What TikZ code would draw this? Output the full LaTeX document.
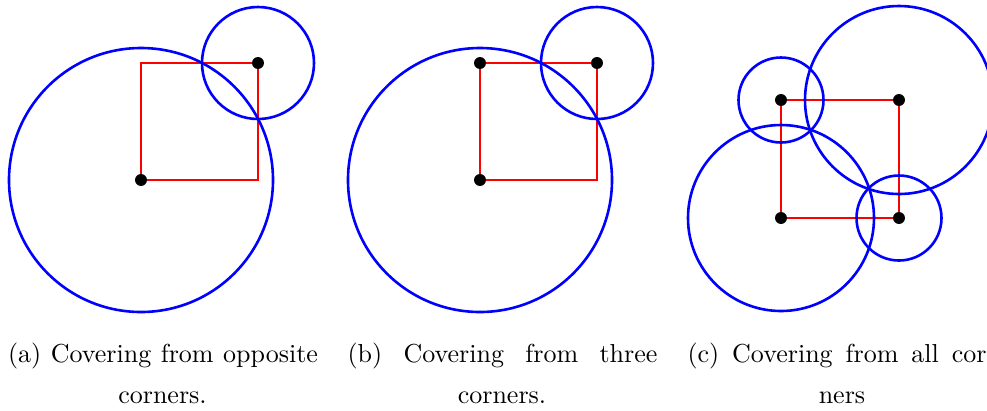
\documentclass[tikz,border=0pt]{standalone}
\usepackage{xcolor}
\usepackage{tikz}
\usetikzlibrary{positioning}

\begin{document}
\begin{tikzpicture}[
  x=0.3846pt, y=-0.3846pt,
  dot/.style={circle, fill=black, inner sep=0pt, minimum size=4.6pt},
  sq/.style={draw=red, line width=1pt},
  ring/.style={draw=blue, line width=1pt},
  capline/.style={inner sep=0pt, font=\fontsize{10}{12}\selectfont},
]
\useasboundingbox (0,0) rectangle (987,410);

% (a) opposite corners
\coordinate (abl) at (141,180);
\coordinate (atl) at (141,63);
\coordinate (atr) at (258,63);
\coordinate (abr) at (258,180);
\draw[sq] (abl) -- (atl) -- (atr) -- (abr) -- cycle;
\draw[ring] (abl) circle[radius=132];
\draw[ring] (atr) circle[radius=56];
\node[dot] (abl-dot) at (abl) {};
\node[dot] (atr-dot) at (atr) {};

% (b) three corners
\coordinate (bbl) at (480,180);
\coordinate (btl) at (480,63);
\coordinate (btr) at (597,63);
\coordinate (bbr) at (597,180);
\draw[sq] (bbl) -- (btl) -- (btr) -- (bbr) -- cycle;
\draw[ring] (bbl) circle[radius=132];
\draw[ring] (btr) circle[radius=56];
\node[dot] (bbl-dot) at (bbl) {};
\node[dot] (btl-dot) at (btl) {};
\node[dot] (btr-dot) at (btr) {};

% (c) all corners
\coordinate (cbl) at (781,218);
\coordinate (ctl) at (781,100);
\coordinate (ctr) at (899,100);
\coordinate (cbr) at (899,218);
\draw[sq] (cbl) -- (ctl) -- (ctr) -- (cbr) -- cycle;
\draw[ring] (ctl) circle[radius=42.5];
\draw[ring] (ctr) circle[radius=94];
\draw[ring] (cbl) circle[radius=93];
\draw[ring] (cbr) circle[radius=42.5];
\node[dot] (cbl-dot) at (cbl) {};
\node[dot] (ctl-dot) at (ctl) {};
\node[dot] (ctr-dot) at (ctr) {};
\node[dot] (cbr-dot) at (cbr) {};

% Captions
\node[capline, anchor=base west] (capa1) at (7.5,362.5) {\makebox[119.2pt][s]{(a) Covering from opposite}};
\node[capline, anchor=base] (capa2) at (162.5,403) {corners.};
\node[capline, anchor=base west] (capb1) at (347,362.5) {\makebox[119.2pt][s]{(b) Covering from three}};
\node[capline, anchor=base] (capb2) at (502,403) {corners.};
\node[capline, anchor=base west] (capc1) at (687,362.5) {\makebox[115pt][s]{(c) Covering from all cor}};
\node[capline, anchor=base] (capc2) at (842,403) {ners};

\end{tikzpicture}
\end{document}
